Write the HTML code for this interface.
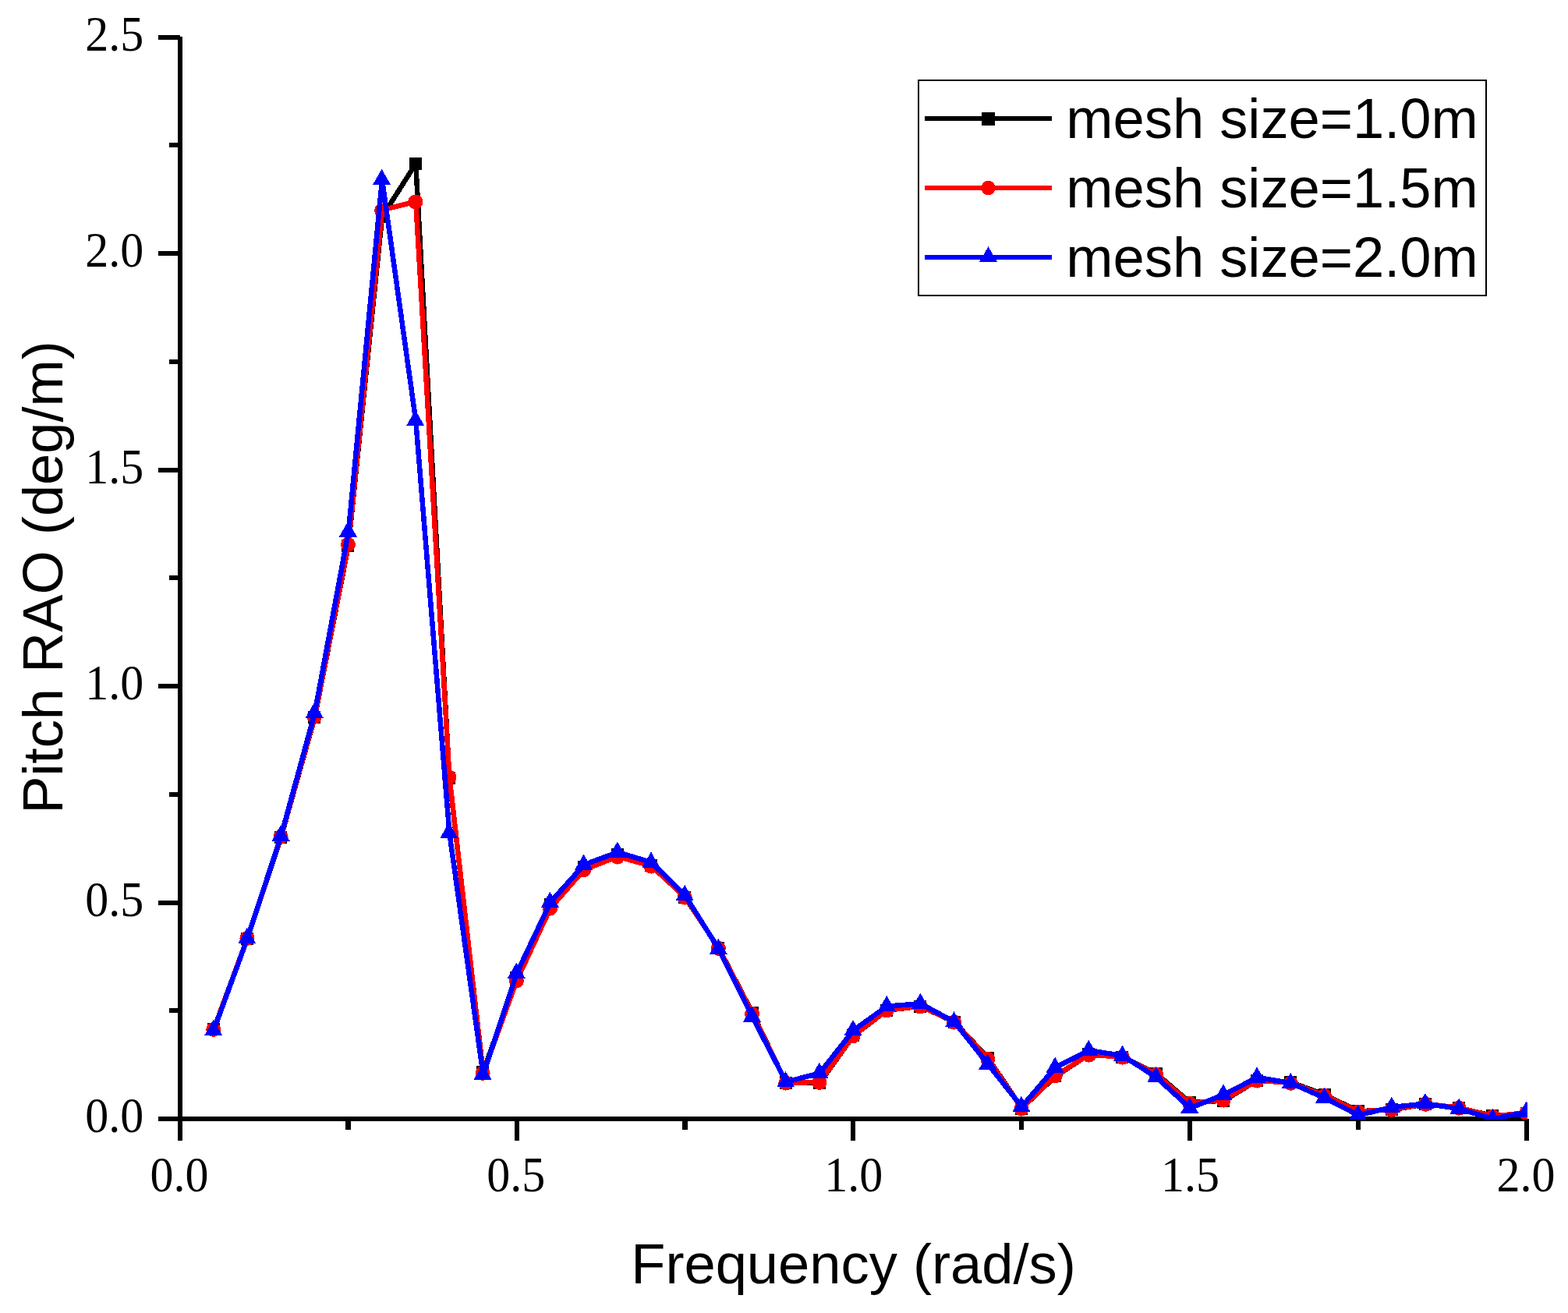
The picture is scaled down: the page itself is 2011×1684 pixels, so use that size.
<!DOCTYPE html>
<html lang="en">
<head>
<meta charset="utf-8">
<title>Pitch RAO vs Frequency</title>
<style>
html,body{margin:0;padding:0;background:#fff;}
body{width:2011px;height:1684px;overflow:hidden;}
svg{display:block;}
.tick{font-family:"Liberation Serif","Times New Roman",serif;font-size:60px;fill:#000;}
.ttl{font-family:"Liberation Sans",Arial,sans-serif;font-size:72.3px;fill:#000;}
</style>
</head>
<body>
<svg width="2011" height="1684" viewBox="0 0 2011 1684">
<rect x="0" y="0" width="2011" height="1684" fill="#fff"/>
<defs><clipPath id="plot"><rect x="231" y="48" width="1728" height="1388"/></clipPath></defs>
<g shape-rendering="crispEdges" fill="#000">
<rect x="228" y="47" width="6" height="1391"/>
<rect x="203" y="1432" width="1755" height="6"/>
<rect x="217" y="1293" width="14" height="6"/>
<rect x="203" y="1155" width="28" height="6"/>
<rect x="217" y="1016" width="14" height="6"/>
<rect x="203" y="877" width="28" height="6"/>
<rect x="217" y="738" width="14" height="6"/>
<rect x="203" y="600" width="28" height="6"/>
<rect x="217" y="461" width="14" height="6"/>
<rect x="203" y="322" width="28" height="6"/>
<rect x="217" y="183" width="14" height="6"/>
<rect x="203" y="45" width="28" height="6"/>
<rect x="228" y="1435" width="6" height="28"/>
<rect x="443" y="1435" width="7" height="14"/>
<rect x="660" y="1435" width="6" height="28"/>
<rect x="875" y="1435" width="7" height="14"/>
<rect x="1091" y="1435" width="6" height="28"/>
<rect x="1307" y="1435" width="6" height="14"/>
<rect x="1523" y="1435" width="6" height="28"/>
<rect x="1739" y="1435" width="6" height="14"/>
<rect x="1955" y="1435" width="6" height="28"/>
</g>
<g class="tick" text-anchor="end">
<text transform="translate(184.3,1451.8) scale(1,1.05)">0.0</text>
<text transform="translate(184.3,1174.8) scale(1,1.05)">0.5</text>
<text transform="translate(184.3,896.8) scale(1,1.05)">1.0</text>
<text transform="translate(184.3,619.8) scale(1,1.05)">1.5</text>
<text transform="translate(184.3,341.8) scale(1,1.05)">2.0</text>
<text transform="translate(184.3,64.8) scale(1,1.05)">2.5</text>
</g>
<g class="tick" text-anchor="middle">
<text transform="translate(230,1527.7) scale(1,1.05)">0.0</text>
<text transform="translate(661.75,1527.7) scale(1,1.05)">0.5</text>
<text transform="translate(1094.7,1527.7) scale(1,1.05)">1.0</text>
<text transform="translate(1526.45,1527.7) scale(1,1.05)">1.5</text>
<text transform="translate(1957,1527.7) scale(1,1.05)">2.0</text>
</g>
<text class="ttl" text-anchor="middle" x="1094.5" y="1646">Frequency (rad/s)</text>
<text class="ttl" text-anchor="middle" transform="translate(80,740.4) rotate(-90)">Pitch RAO (deg/m)</text>
<g clip-path="url(#plot)" shape-rendering="crispEdges">
<polyline points="274.18,1320.5 317.35,1203.5 360.52,1073.5 403.7,919.8 446.88,699.5 490.05,278 533.22,210 576.4,998 619.58,1375 662.75,1253.5 705.92,1160.5 749.1,1112.5 792.27,1096.5 835.45,1109.5 878.62,1151.2 921.8,1216 964.98,1299 1008.15,1389 1051.32,1389 1094.5,1328.5 1137.68,1295.7 1180.85,1290.6 1224.03,1310.8 1267.2,1357 1310.38,1421.5 1353.55,1380.5 1396.73,1352.5 1439.9,1355.8 1483.08,1377 1526.25,1414 1569.42,1411.7 1612.6,1385.6 1655.77,1388.1 1698.95,1404 1742.12,1425.3 1785.3,1423.2 1828.48,1416.2 1871.65,1421.1 1914.83,1431.1 1958,1428" fill="none" stroke="#000" stroke-width="6.5" stroke-linejoin="round"/>
<rect x="266" y="1312" width="16" height="16" fill="#000"/>
<rect x="309" y="1196" width="16" height="16" fill="#000"/>
<rect x="352" y="1066" width="16" height="16" fill="#000"/>
<rect x="395" y="912" width="16" height="16" fill="#000"/>
<rect x="438" y="692" width="16" height="16" fill="#000"/>
<rect x="482" y="270" width="16" height="16" fill="#000"/>
<rect x="525" y="202" width="16" height="16" fill="#000"/>
<rect x="568" y="990" width="16" height="16" fill="#000"/>
<rect x="611" y="1367" width="16" height="16" fill="#000"/>
<rect x="654" y="1246" width="16" height="16" fill="#000"/>
<rect x="698" y="1152" width="16" height="16" fill="#000"/>
<rect x="741" y="1104" width="16" height="16" fill="#000"/>
<rect x="784" y="1088" width="16" height="16" fill="#000"/>
<rect x="827" y="1102" width="16" height="16" fill="#000"/>
<rect x="870" y="1143" width="16" height="16" fill="#000"/>
<rect x="913" y="1208" width="16" height="16" fill="#000"/>
<rect x="957" y="1291" width="16" height="16" fill="#000"/>
<rect x="1000" y="1381" width="16" height="16" fill="#000"/>
<rect x="1043" y="1381" width="16" height="16" fill="#000"/>
<rect x="1086" y="1320" width="16" height="16" fill="#000"/>
<rect x="1129" y="1288" width="16" height="16" fill="#000"/>
<rect x="1172" y="1283" width="16" height="16" fill="#000"/>
<rect x="1216" y="1303" width="16" height="16" fill="#000"/>
<rect x="1259" y="1349" width="16" height="16" fill="#000"/>
<rect x="1302" y="1414" width="16" height="16" fill="#000"/>
<rect x="1345" y="1372" width="16" height="16" fill="#000"/>
<rect x="1388" y="1344" width="16" height="16" fill="#000"/>
<rect x="1431" y="1348" width="16" height="16" fill="#000"/>
<rect x="1475" y="1369" width="16" height="16" fill="#000"/>
<rect x="1518" y="1406" width="16" height="16" fill="#000"/>
<rect x="1561" y="1404" width="16" height="16" fill="#000"/>
<rect x="1604" y="1378" width="16" height="16" fill="#000"/>
<rect x="1647" y="1380" width="16" height="16" fill="#000"/>
<rect x="1691" y="1396" width="16" height="16" fill="#000"/>
<rect x="1734" y="1417" width="16" height="16" fill="#000"/>
<rect x="1777" y="1415" width="16" height="16" fill="#000"/>
<rect x="1820" y="1408" width="16" height="16" fill="#000"/>
<rect x="1863" y="1413" width="16" height="16" fill="#000"/>
<rect x="1906" y="1423" width="16" height="16" fill="#000"/>
<rect x="1950" y="1420" width="16" height="16" fill="#000"/>
<polyline points="274.18,1320 317.35,1203 360.52,1073 403.7,918.8 446.88,698 490.05,269.5 533.22,258.5 576.4,996.4 619.58,1376 662.75,1257.6 705.92,1164.7 749.1,1115.4 792.27,1098.7 835.45,1110.7 878.62,1150.7 921.8,1216 964.98,1300 1008.15,1388.7 1051.32,1388 1094.5,1328.3 1137.68,1295.4 1180.85,1290.5 1224.03,1310.7 1267.2,1358 1310.38,1421.7 1353.55,1379.6 1396.73,1352.7 1439.9,1355.7 1483.08,1378 1526.25,1415 1569.42,1410.7 1612.6,1385.7 1655.77,1388.9 1698.95,1405 1742.12,1425.6 1785.3,1422.9 1828.48,1415.9 1871.65,1420.8 1914.83,1431.8 1958,1427" fill="none" stroke="#f00" stroke-width="6.5" stroke-linejoin="round"/>
<circle cx="273.78" cy="1320.4" r="9.5" fill="#f00"/>
<circle cx="316.95" cy="1203.4" r="9.5" fill="#f00"/>
<circle cx="360.12" cy="1073.4" r="9.5" fill="#f00"/>
<circle cx="403.3" cy="919.2" r="9.5" fill="#f00"/>
<circle cx="446.48" cy="698.4" r="9.5" fill="#f00"/>
<circle cx="489.65" cy="269.9" r="9.5" fill="#f00"/>
<circle cx="532.82" cy="258.9" r="9.5" fill="#f00"/>
<circle cx="576" cy="996.8" r="9.5" fill="#f00"/>
<circle cx="619.18" cy="1376.4" r="9.5" fill="#f00"/>
<circle cx="662.35" cy="1258" r="9.5" fill="#f00"/>
<circle cx="705.52" cy="1165.1" r="9.5" fill="#f00"/>
<circle cx="748.7" cy="1115.8" r="9.5" fill="#f00"/>
<circle cx="791.88" cy="1099.1" r="9.5" fill="#f00"/>
<circle cx="835.05" cy="1111.1" r="9.5" fill="#f00"/>
<circle cx="878.23" cy="1151.1" r="9.5" fill="#f00"/>
<circle cx="921.4" cy="1216.4" r="9.5" fill="#f00"/>
<circle cx="964.58" cy="1300.4" r="9.5" fill="#f00"/>
<circle cx="1007.75" cy="1389.1" r="9.5" fill="#f00"/>
<circle cx="1050.92" cy="1388.4" r="9.5" fill="#f00"/>
<circle cx="1094.1" cy="1328.7" r="9.5" fill="#f00"/>
<circle cx="1137.28" cy="1295.8" r="9.5" fill="#f00"/>
<circle cx="1180.45" cy="1290.9" r="9.5" fill="#f00"/>
<circle cx="1223.62" cy="1311.1" r="9.5" fill="#f00"/>
<circle cx="1266.8" cy="1358.4" r="9.5" fill="#f00"/>
<circle cx="1309.97" cy="1422.1" r="9.5" fill="#f00"/>
<circle cx="1353.15" cy="1380" r="9.5" fill="#f00"/>
<circle cx="1396.33" cy="1353.1" r="9.5" fill="#f00"/>
<circle cx="1439.5" cy="1356.1" r="9.5" fill="#f00"/>
<circle cx="1482.67" cy="1378.4" r="9.5" fill="#f00"/>
<circle cx="1525.85" cy="1415.4" r="9.5" fill="#f00"/>
<circle cx="1569.02" cy="1411.1" r="9.5" fill="#f00"/>
<circle cx="1612.2" cy="1386.1" r="9.5" fill="#f00"/>
<circle cx="1655.37" cy="1389.3" r="9.5" fill="#f00"/>
<circle cx="1698.55" cy="1405.4" r="9.5" fill="#f00"/>
<circle cx="1741.72" cy="1426" r="9.5" fill="#f00"/>
<circle cx="1784.9" cy="1423.3" r="9.5" fill="#f00"/>
<circle cx="1828.08" cy="1416.3" r="9.5" fill="#f00"/>
<circle cx="1871.25" cy="1421.2" r="9.5" fill="#f00"/>
<circle cx="1914.42" cy="1432.2" r="9.5" fill="#f00"/>
<circle cx="1957.6" cy="1427.4" r="9.5" fill="#f00"/>
<polyline points="274.18,1321.3 317.35,1203.5 360.52,1071.9 403.7,914.2 446.88,681.9 490.05,230.3 533.22,539.3 576.4,1068.3 619.58,1378.2 662.75,1248.2 705.92,1157.2 749.1,1109 792.27,1093 835.45,1106.1 878.62,1148.3 921.8,1217.4 964.98,1304.2 1008.15,1387.7 1051.32,1376.3 1094.5,1321.5 1137.68,1290.5 1180.85,1287.3 1224.03,1310.7 1267.2,1365 1310.38,1419.3 1353.55,1369.2 1396.73,1347.1 1439.9,1354.1 1483.08,1381.7 1526.25,1421.1 1569.42,1404 1612.6,1381.9 1655.77,1389.2 1698.95,1408.2 1742.12,1430.3 1785.3,1420.1 1828.48,1415.4 1871.65,1422.1 1914.83,1435 1958,1426.2" fill="none" stroke="#00f" stroke-width="6.5" stroke-linejoin="round"/>
<polygon points="273.68,1307.7 262.18,1327.9 285.18,1327.9" fill="#00f"/>
<polygon points="316.85,1189.9 305.35,1210.1 328.35,1210.1" fill="#00f"/>
<polygon points="360.02,1058.3 348.52,1078.5 371.52,1078.5" fill="#00f"/>
<polygon points="403.2,900.6 391.7,920.8 414.7,920.8" fill="#00f"/>
<polygon points="446.38,668.3 434.88,688.5 457.88,688.5" fill="#00f"/>
<polygon points="489.55,216.7 478.05,236.9 501.05,236.9" fill="#00f"/>
<polygon points="532.72,525.7 521.22,545.9 544.22,545.9" fill="#00f"/>
<polygon points="575.9,1054.7 564.4,1074.9 587.4,1074.9" fill="#00f"/>
<polygon points="619.08,1364.6 607.58,1384.8 630.58,1384.8" fill="#00f"/>
<polygon points="662.25,1234.6 650.75,1254.8 673.75,1254.8" fill="#00f"/>
<polygon points="705.42,1143.6 693.92,1163.8 716.92,1163.8" fill="#00f"/>
<polygon points="748.6,1095.4 737.1,1115.6 760.1,1115.6" fill="#00f"/>
<polygon points="791.77,1079.4 780.27,1099.6 803.27,1099.6" fill="#00f"/>
<polygon points="834.95,1092.5 823.45,1112.7 846.45,1112.7" fill="#00f"/>
<polygon points="878.12,1134.7 866.62,1154.9 889.62,1154.9" fill="#00f"/>
<polygon points="921.3,1203.8 909.8,1224 932.8,1224" fill="#00f"/>
<polygon points="964.48,1290.6 952.98,1310.8 975.98,1310.8" fill="#00f"/>
<polygon points="1007.65,1374.1 996.15,1394.3 1019.15,1394.3" fill="#00f"/>
<polygon points="1050.82,1362.7 1039.32,1382.9 1062.32,1382.9" fill="#00f"/>
<polygon points="1094,1307.9 1082.5,1328.1 1105.5,1328.1" fill="#00f"/>
<polygon points="1137.18,1276.9 1125.68,1297.1 1148.68,1297.1" fill="#00f"/>
<polygon points="1180.35,1273.7 1168.85,1293.9 1191.85,1293.9" fill="#00f"/>
<polygon points="1223.53,1297.1 1212.03,1317.3 1235.03,1317.3" fill="#00f"/>
<polygon points="1266.7,1351.4 1255.2,1371.6 1278.2,1371.6" fill="#00f"/>
<polygon points="1309.88,1405.7 1298.38,1425.9 1321.38,1425.9" fill="#00f"/>
<polygon points="1353.05,1355.6 1341.55,1375.8 1364.55,1375.8" fill="#00f"/>
<polygon points="1396.23,1333.5 1384.73,1353.7 1407.73,1353.7" fill="#00f"/>
<polygon points="1439.4,1340.5 1427.9,1360.7 1450.9,1360.7" fill="#00f"/>
<polygon points="1482.58,1368.1 1471.08,1388.3 1494.08,1388.3" fill="#00f"/>
<polygon points="1525.75,1407.5 1514.25,1427.7 1537.25,1427.7" fill="#00f"/>
<polygon points="1568.92,1390.4 1557.42,1410.6 1580.42,1410.6" fill="#00f"/>
<polygon points="1612.1,1368.3 1600.6,1388.5 1623.6,1388.5" fill="#00f"/>
<polygon points="1655.27,1375.6 1643.77,1395.8 1666.77,1395.8" fill="#00f"/>
<polygon points="1698.45,1394.6 1686.95,1414.8 1709.95,1414.8" fill="#00f"/>
<polygon points="1741.62,1416.7 1730.12,1436.9 1753.12,1436.9" fill="#00f"/>
<polygon points="1784.8,1406.5 1773.3,1426.7 1796.3,1426.7" fill="#00f"/>
<polygon points="1827.98,1401.8 1816.48,1422 1839.48,1422" fill="#00f"/>
<polygon points="1871.15,1408.5 1859.65,1428.7 1882.65,1428.7" fill="#00f"/>
<polygon points="1914.33,1421.4 1902.83,1441.6 1925.83,1441.6" fill="#00f"/>
<polygon points="1957.5,1412.6 1946,1432.8 1969,1432.8" fill="#00f"/>
</g>
<g shape-rendering="crispEdges">
<rect x="1178" y="103" width="728" height="276" fill="#fff" stroke="#000" stroke-width="2"/>
<rect x="1186" y="149" width="163" height="6" fill="#000"/>
<rect x="1259" y="144" width="17" height="17" fill="#000"/>
<rect x="1186" y="238" width="163" height="6" fill="#f00"/>
<circle cx="1267.5" cy="241" r="9.2" fill="#f00"/>
<rect x="1186" y="327" width="163" height="6" fill="#00f"/>
<polygon points="1267.5,316.4 1255.8,336.2 1279.2,336.2" fill="#00f"/>
</g>
<g class="ttl">
<text x="1367.3" y="177">mesh size=1.0m</text>
<text x="1367.3" y="265.8">mesh size=1.5m</text>
<text x="1367.3" y="354.6">mesh size=2.0m</text>
</g>
</svg>
</body>
</html>
